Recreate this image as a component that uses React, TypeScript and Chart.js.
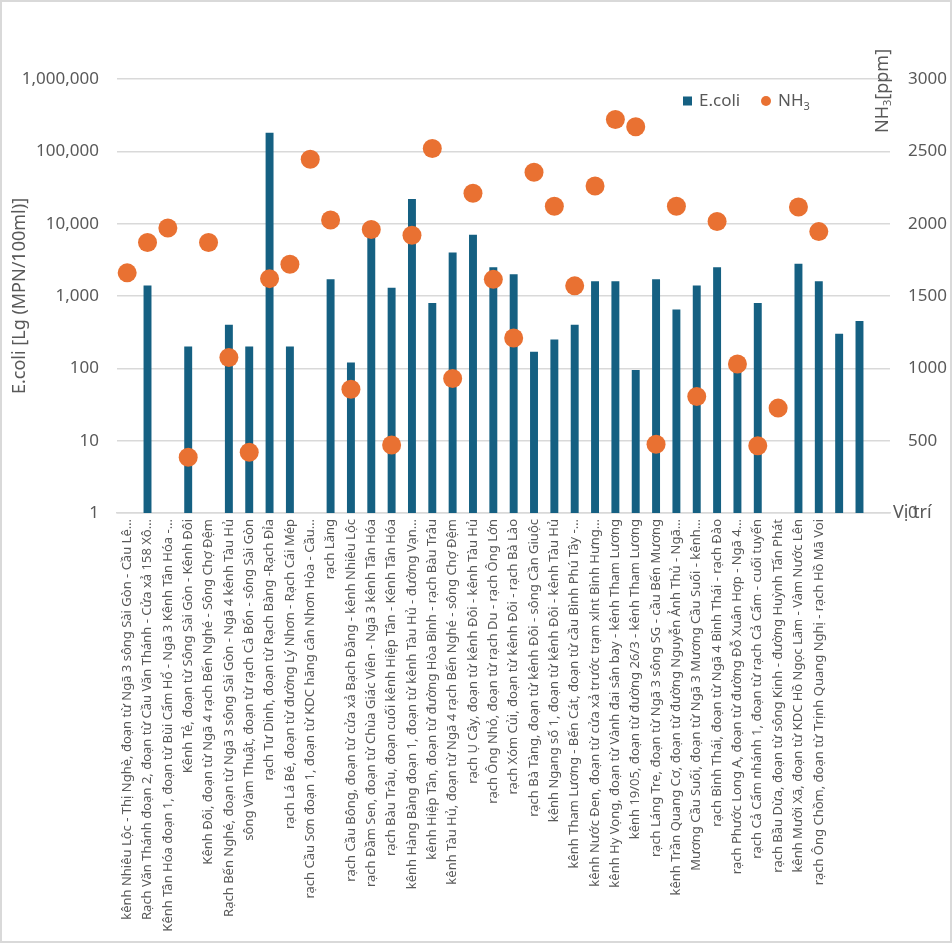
import React, { useEffect, useRef } from 'react';
import { Chart, registerables } from 'chart.js';

Chart.register(...registerables);

const categories: string[] = [
  'kênh Nhiêu Lộc - Thị Nghè, đoạn từ Ngã 3 sông Sài Gòn - Cầu Lê…',
  'Rạch Văn Thánh đoạn 2, đoạn từ Cầu Văn Thánh - Cửa xả 158 Xô…',
  'Kênh Tân Hóa đoạn 1, đoạn từ Bùi Cẩm Hổ - Ngã 3 Kênh Tân Hóa -…',
  'Kênh Tẻ, đoạn từ Sông Sài Gòn - Kênh Đôi',
  'Kênh Đôi, đoạn từ Ngã 4 rạch Bến Nghé - Sông Chợ Đệm',
  'Rạch Bến Nghé, đoạn từ Ngã 3 sông Sài Gòn - Ngã 4 kênh Tàu Hủ',
  'sông Vàm Thuật, đoạn từ rạch Cả Bốn - sông Sài Gòn',
  'rạch Tư Dinh, đoạn từ Rạch Bàng -Rạch Đỉa',
  'rạch Lá Bé, đoạn từ đường Lý Nhơn - Rạch Cái Mép',
  'rạch Cầu Sơn đoạn 1, đoạn từ KDC hãng cân Nhơn Hòa - Cầu…',
  'rạch Lăng',
  'rạch Cầu Bông, đoạn từ cửa xả Bạch Đằng - kênh Nhiêu Lộc',
  'rạch Đầm Sen, đoạn từ Chùa Giác Viên - Ngã 3 kênh Tân Hóa',
  'rạch Bàu Trâu, đoạn cuối kênh Hiệp Tân - Kênh Tân Hóa',
  'kênh Hàng Bàng đoạn 1, đoạn từ kênh Tàu Hủ - đường Vạn…',
  'kênh Hiệp Tân, đoạn từ đường Hòa Bình - rạch Bàu Trâu',
  'kênh Tàu Hủ, đoạn từ Ngã 4 rạch Bến Nghé - sông Chợ Đệm',
  'rạch Ụ Cây, đoạn từ kênh Đôi - kênh Tàu Hủ',
  'rạch Ông Nhỏ, đoạn từ rạch Du - rạch Ông Lớn',
  'rạch Xóm Củi, đoạn từ kênh Đôi - rạch Bà Lào',
  'rạch Bà Tàng, đoạn từ kênh Đôi - sông Cần Giuộc',
  'kênh Ngang số 1, đoạn từ kênh Đôi - kênh Tàu Hủ',
  'kênh Tham Lương - Bến Cát, đoạn từ cầu Bình Phú Tây -…',
  'kênh Nước Đen, đoạn từ cửa xả trước trạm xlnt Bình Hưng…',
  'kênh Hy Vọng, đoạn từ Vành đai sân bay - kênh Tham Lương',
  'kênh 19/05, đoạn từ đường 26/3 - kênh Tham Lương',
  'rạch Láng Tre, đoạn từ Ngã 3 sông SG - cầu Bến Mương',
  'kênh Trần Quang Cơ, đoạn từ đường Nguyễn Ảnh Thủ - Ngã…',
  'Mương Cầu Suối, đoạn từ Ngã 3 Mương Cầu Suối - kênh…',
  'rạch Bình Thái, đoạn từ Ngã 4 Bình Thái - rạch Đào',
  'rạch Phước Long A, đoạn từ đường Đỗ Xuân Hợp - Ngã 4…',
  'rạch Cả Cẩm nhánh 1, đoạn từ rạch Cả Cẩm - cuối tuyến',
  'rạch Bầu Dừa, đoạn từ sông Kinh - đường Huỳnh Tấn Phát',
  'kênh Mười Xã, đoạn từ KDC Hồ Ngọc Lãm - Vàm Nước Lên',
  'rạch Ông Chồm, đoạn từ Trịnh Quang Nghị - rạch Hồ Mã Voi',
  '',
  '',
  '',
];

const ecoliValues: (number | null)[] = [
  null, 1400, null, 200, null, 400, 200, 180000, 200, null,
  1700, 120, 7500, 1300, 22000, 800, 4000, 7000, 2500, 2000,
  170, 250, 400, 1600, 1600, 95, 1700, 650, 1400, 2500,
  100, 800, null, 2800, 1600, 300, 450, null,
];

const nh3Values: (number | null)[] = [
  1660, 1870, 1970, 385, 1870, 1075, 420, 1620, 1720, 2445,
  2025, 855, 1960, 470, 1920, 2520, 930, 2210, 1615, 1210,
  2355, 2120, 1570, 2260, 2720, 2670, 475, 2120, 805, 2015,
  1030, 465, 725, 2115, 1945, null, null, null,
];

const ecoliTicks = [1, 10, 100, 1000, 10000, 100000, 1000000];
const nh3Ticks = [0, 500, 1000, 1500, 2000, 2500, 3000];

const ecoliName = 'E.coli';
const nh3Name = 'NH₃';
const leftTitle = 'E.coli [Lg (MPN/100ml)]';
const xTitle = 'Vị trí';

const FONT = "'Noto Sans', 'DejaVu Sans', sans-serif";
const TEXT = '#595959';
const GRID = '#d9d9d9';
const BLUE = '#156082';
const ORANGE = '#E97132';

export default function App() {
  const ref = useRef<HTMLCanvasElement>(null);

  useEffect(() => {
    document.body.style.margin = '0';
    const canvas = ref.current;
    if (!canvas) return;

    const overlay = {
      id: 'overlay',
      afterDraw(chart: any) {
        const { ctx, chartArea: a, width, height } = chart;
        ctx.save();
        // outer border
        ctx.strokeStyle = GRID;
        ctx.lineWidth = 2;
        ctx.strokeRect(1, 1, width - 2, height - 2);

        ctx.fillStyle = TEXT;

        // left title
        ctx.save();
        ctx.font = `18px ${FONT}`;
        ctx.translate(20, (a.top + a.bottom) / 2);
        ctx.rotate(-Math.PI / 2);
        ctx.textAlign = 'center';
        ctx.textBaseline = 'middle';
        ctx.fillText(leftTitle, 0, 0);
        ctx.restore();

        // right title NH3[ppm]
        ctx.save();
        ctx.translate(a.right - 7, a.top + 54);
        ctx.rotate(-Math.PI / 2);
        ctx.textAlign = 'left';
        ctx.textBaseline = 'middle';
        ctx.font = `18px ${FONT}`;
        let x = 0;
        ctx.fillText('NH', x, 0);
        x += ctx.measureText('NH').width;
        ctx.font = `11px ${FONT}`;
        ctx.fillText('3', x, 5);
        x += ctx.measureText('3').width;
        ctx.font = `18px ${FONT}`;
        ctx.fillText('[ppm]', x, 0);
        ctx.restore();

        // x title at right end of axis
        ctx.font = `18px ${FONT}`;
        ctx.textAlign = 'left';
        ctx.textBaseline = 'middle';
        ctx.fillText(xTitle, a.right + 3, a.bottom);

        // legend
        const ly = a.top + 22;
        const lx = a.right - 207;
        ctx.fillStyle = BLUE;
        ctx.fillRect(lx, ly - 4.5, 9, 9);
        ctx.fillStyle = TEXT;
        ctx.font = `17px ${FONT}`;
        ctx.textAlign = 'left';
        ctx.textBaseline = 'middle';
        ctx.fillText(ecoliName, lx + 16, ly);
        const cx = lx + 83;
        ctx.fillStyle = ORANGE;
        ctx.beginPath();
        ctx.arc(cx, ly, 5, 0, Math.PI * 2);
        ctx.fill();
        ctx.fillStyle = TEXT;
        let tx = cx + 12;
        ctx.fillText('NH', tx, ly);
        tx += ctx.measureText('NH').width;
        ctx.font = `11px ${FONT}`;
        ctx.fillText('3', tx, ly + 6);
        ctx.restore();
      },
    };

    const chart = new Chart(canvas, {
      data: {
        labels: categories,
        datasets: [
          {
            type: 'line' as const,
            label: nh3Name,
            data: nh3Values,
            yAxisID: 'y1',
            showLine: false,
            backgroundColor: ORANGE,
            borderColor: ORANGE,
            pointRadius: 9.5,
            pointBorderWidth: 0,
            pointHoverRadius: 9.5,
            order: 0,
          },
          {
            type: 'bar' as const,
            label: ecoliName,
            data: ecoliValues,
            yAxisID: 'y',
            backgroundColor: BLUE,
            barPercentage: 0.39,
            categoryPercentage: 1,
            order: 1,
          },
        ],
      },
      options: {
        animation: false,
        responsive: true,
        maintainAspectRatio: false,
        layout: { padding: { top: 79, left: 0, right: 0, bottom: 0 } },
        plugins: {
          legend: { display: false },
          tooltip: { enabled: false },
        },
        scales: {
          x: {
            type: 'category',
            grid: { display: false, drawTicks: false },
            border: { display: true, color: GRID, width: 1.5 },
            ticks: {
              autoSkip: false,
              maxRotation: 90,
              minRotation: 90,
              padding: 6,
              color: TEXT,
              font: { family: FONT, size: 13 },
            },
            afterFit(scale: any) {
              scale.height = 430;
            },
          },
          y: {
            type: 'logarithmic',
            position: 'left',
            min: 1,
            max: 1000000,
            grid: { color: GRID, lineWidth: 1.5, drawTicks: false },
            border: { display: false },
            ticks: {
              padding: 18,
              color: TEXT,
              font: { family: FONT, size: 17 },
              callback: (v: any) => Number(v).toLocaleString('en-US'),
            },
            afterBuildTicks(scale: any) {
              scale.ticks = ecoliTicks.map((v) => ({ value: v }));
            },
            afterFit(scale: any) {
              scale.width = 117;
            },
          },
          y1: {
            type: 'linear',
            position: 'right',
            min: 0,
            max: 3000,
            grid: { display: false, drawTicks: false },
            border: { display: false },
            ticks: {
              padding: 18,
              color: TEXT,
              font: { family: FONT, size: 17 },
              callback: (v: any) => String(v),
            },
            afterBuildTicks(scale: any) {
              scale.ticks = nh3Ticks.map((v) => ({ value: v }));
            },
            afterFit(scale: any) {
              scale.width = 62;
            },
          },
        },
      } as any,
      plugins: [overlay],
    });

    return () => chart.destroy();
  }, []);

  return (
    <div style={{ position: 'relative', width: 952, height: 943 }}>
      <canvas ref={ref} />
    </div>
  );
}
